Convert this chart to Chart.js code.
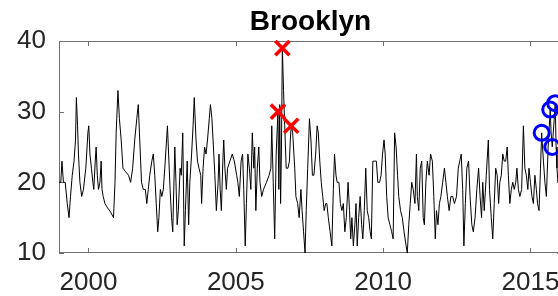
<!DOCTYPE html>
<html><head><meta charset="utf-8">
<script src="https://cdn.jsdelivr.net/npm/chart.js@4/dist/chart.umd.min.js"></script>
<style>html,body{margin:0;padding:0;background:#fff;overflow:hidden;width:558px;height:296px}
#wrap{position:relative;width:621px;height:296px}</style></head>
<body><div id="wrap"><canvas id="c" width="621" height="296"></canvas></div>
<script>
const chartTitle = 'Brooklyn';
const years = [
1999.00,1999.06,1999.10,1999.15,1999.21,1999.28,1999.34,1999.39,1999.45,1999.51,1999.56,1999.59,1999.63,1999.66,1999.71,1999.77,1999.83,1999.91,1999.98,
2000.01,2000.05,2000.10,2000.15,2000.18,2000.23,2000.26,2000.30,2000.34,2000.39,2000.43,2000.46,2000.50,2000.56,2000.63,2000.75,2000.85,2000.90,2000.94,
2001.00,2001.05,2001.11,2001.17,2001.26,2001.36,2001.43,2001.50,2001.57,2001.64,2001.69,2001.73,2001.77,2001.80,2001.86,2001.93,2001.98,
2002.03,2002.08,2002.15,2002.20,2002.25,2002.30,2002.35,2002.39,2002.44,2002.49,2002.54,2002.59,2002.65,2002.68,2002.72,2002.77,2002.82,2002.86,2002.93,2002.97,
2003.01,2003.05,2003.11,2003.15,2003.20,2003.25,2003.29,2003.35,2003.40,2003.44,2003.50,2003.55,2003.59,2003.65,2003.70,2003.75,2003.81,2003.84,2003.89,2003.94,2003.99,
2004.04,2004.10,2004.14,2004.19,2004.24,2004.29,2004.34,2004.40,2004.43,2004.47,2004.51,2004.56,2004.59,2004.63,2004.68,2004.72,2004.80,2004.88,2004.95,
2005.03,2005.07,2005.12,2005.18,2005.23,2005.27,2005.32,2005.36,2005.41,2005.46,2005.51,2005.56,2005.61,2005.64,2005.68,2005.73,2005.78,2005.82,2005.88,2005.94,
2006.04,2006.13,2006.19,2006.22,2006.27,2006.32,2006.37,2006.43,2006.46,2006.49,2006.52,2006.55,2006.58,2006.62,2006.66,2006.71,2006.77,2006.82,2006.85,2006.88,2006.93,
2007.00,2007.04,2007.10,2007.15,2007.21,2007.25,2007.30,2007.35,2007.39,2007.44,2007.50,2007.55,2007.60,2007.65,2007.71,2007.76,2007.80,2007.85,2007.90,2007.95,
2008.00,2008.05,2008.09,2008.14,2008.20,2008.26,2008.31,2008.35,2008.40,2008.44,2008.50,2008.55,2008.60,2008.65,2008.70,2008.75,2008.81,2008.86,2008.90,2008.94,2008.99,
2009.04,2009.08,2009.12,2009.17,2009.22,2009.27,2009.31,2009.36,2009.41,2009.46,2009.51,2009.56,2009.60,2009.65,2009.71,2009.77,2009.82,2009.88,2009.93,2009.98,
2010.03,2010.07,2010.12,2010.17,2010.23,2010.29,2010.34,2010.39,2010.44,2010.49,2010.53,2010.59,2010.65,2010.71,2010.78,2010.82,2010.87,2010.92,2010.97,
2011.02,2011.08,2011.13,2011.16,2011.21,2011.26,2011.31,2011.36,2011.40,2011.45,2011.50,2011.56,2011.61,2011.67,2011.72,2011.77,2011.81,2011.86,2011.91,2011.96,
2012.02,2012.08,2012.13,2012.18,2012.24,2012.30,2012.36,2012.42,2012.49,2012.55,2012.60,2012.65,2012.70,2012.74,2012.79,2012.84,2012.90,2012.95,
2013.01,2013.06,2013.12,2013.18,2013.24,2013.29,2013.34,2013.38,2013.43,2013.50,2013.57,2013.61,2013.67,2013.72,2013.77,2013.82,2013.87,2013.92,2013.96,
2014.01,2014.06,2014.11,2014.16,2014.21,2014.25,2014.30,2014.35,2014.40,2014.45,2014.50,2014.54,2014.59,2014.64,2014.70,2014.76,2014.81,2014.86,2014.91,2014.95,
2015.00,2015.05,2015.10,2015.15,2015.20,2015.24,2015.29,2015.34,2015.38,2015.44,2015.49,2015.54,2015.60,2015.67,2015.70,2015.74,2015.79,2015.84,2015.87,2015.90,2015.93,2015.97
];
const values = [
20,20,23,20,20,17,15,18,21,23,26,32,28,24,20,18,19,22,27,
28,24,22,20,19,23,25,21,19,20,23,19,18,17,16.5,15.8,15,20,27,
33,29,26,22,21.5,21,20,22,26,29,31,27,23,20,19,19,17,
19,21,23,24,21,17,13,15,19,18,19,22,26,28,24,19,15,13,25,20,
14,16,22,21,27,11,16,23,14,20,24,28,32,26,23,22,21,17,22,25,24,
26,29,31,29,25,21,16,20,24,19,16,23,26,22,19,22,23,24,23,
21,20,18,23,24,19,11,17,24,22,19,27,22,25,16,22,25,20,18,19,
20,21,22,28,20,12,24,30,19,31,17,25,39,33,28,22,22,23,26,28,27,
22,18,17,15,19,16,13,10,16,22,29,26,21,21,24,28,27,23,20,18,
16,17,17,15,13,11,19,24,21,20,20,17,16,17,13,15,20,16,12,15,11,
14,17,11,15,18,14,12,16,22,16,15,13,12,23,23,23,20,20,21,24,
26,24,18,15,14,13,12,27,25,21,18,16,15,13,11,10,14,17,20,
19,17,24,18,16,22,23,15,14,20,23,21,24,23,18,12,16,14,17,18,
20,22,20,18,16,18,18,17,18,22,23,24,19,11,17,22,23,18,
14,13,15,19,22,18,15,20,16,21,26,19,15,12,17,22,21,17,20,
21,24,23,23,25,21,17,19,20,19,20,22,19,18,19,28,22,21,19,22,
20,18,17,21,19,17,16,22,27,23,20,18,25,30.3,27,25,28,31.2,25,22,20,20
];
const spikeYears = [2006.43, 2006.58, 2006.88];
const spikeValues = [30, 39, 28];
const recentYears = [2015.38, 2015.67, 2015.74, 2015.84];
const recentValues = [27, 30.3, 25, 31.2];
const xTicks = [2000, 2005, 2010, 2015];
const yTicks = [10, 20, 30, 40];
const xMin = 1999.0, xMax = 2016.07, yMin = 10, yMax = 40;

const toPts = (xs, ys) => xs.map((x, i) => ({x: x, y: ys[i]}));
const FONT = 'Liberation Sans, Arial, Helvetica, sans-serif';
const AXIS = '#707070';

const matlabAxes = {
  id: 'matlabAxes',
  beforeDatasetsDraw(chart) {
    const {ctx, chartArea: a, scales: {x, y}} = chart;
    ctx.save();
    ctx.strokeStyle = AXIS;
    ctx.lineWidth = 1;
    ctx.beginPath();
    ctx.moveTo(a.left + 0.5, a.top + 0.5); ctx.lineTo(a.right, a.top + 0.5);
    ctx.moveTo(a.left + 0.5, a.top); ctx.lineTo(a.left + 0.5, a.bottom);
    ctx.moveTo(a.left, a.bottom - 0.5); ctx.lineTo(a.right, a.bottom - 0.5);
    const tl = 5;
    xTicks.forEach(v => {
      const px = Math.round(x.getPixelForValue(v)) + 0.5;
      ctx.moveTo(px, a.bottom); ctx.lineTo(px, a.bottom - tl);
      ctx.moveTo(px, a.top); ctx.lineTo(px, a.top + tl);
    });
    yTicks.forEach(v => {
      const py = Math.round(y.getPixelForValue(v)) + 0.5;
      ctx.moveTo(a.left, py); ctx.lineTo(a.left + tl, py);
      ctx.moveTo(a.right, py); ctx.lineTo(a.right - tl, py);
    });
    ctx.stroke();
    ctx.restore();
  },
  afterDraw(chart) {
    const {ctx, chartArea: a} = chart;
    ctx.save();
    ctx.fillStyle = '#000';
    ctx.font = 'bold 28px ' + FONT;
    ctx.textAlign = 'center';
    ctx.textBaseline = 'alphabetic';
    ctx.fillText(chartTitle, (a.left + a.right) / 2, 29.5);
    ctx.restore();
  }
};

new Chart(document.getElementById('c'), {
  type: 'line',
  data: {
    datasets: [
      {data: toPts(spikeYears, spikeValues), showLine: false, pointStyle: 'crossRot', pointRadius: 10,
       pointBorderWidth: 3.5, borderColor: '#ff0000', pointBorderColor: '#ff0000', backgroundColor: '#ff0000', order: 0, clip: false},
      {data: toPts(recentYears, recentValues), showLine: false, pointStyle: 'circle', pointRadius: 7.5,
       pointBorderWidth: 3, borderColor: '#0000ff', pointBorderColor: '#0000ff', pointBackgroundColor: 'rgba(0,0,0,0)', order: 0, clip: false},
      {data: toPts(years, values), borderColor: '#000', borderWidth: 1, pointRadius: 0, tension: 0, fill: false, order: 1}
    ]
  },
  options: {
    responsive: false,
    devicePixelRatio: 1,
    animation: false,
    events: [],
    layout: {padding: {top: 41, right: 59, left: 0, bottom: 0}},
    plugins: {legend: {display: false}, tooltip: {enabled: false}, title: {display: false}},
    scales: {
      x: {
        type: 'linear', min: xMin, max: xMax,
        grid: {display: false, drawTicks: false}, border: {display: false},
        afterBuildTicks: s => { s.ticks = xTicks.map(v => ({value: v})); },
        afterFit: s => { s.height = 43; },
        ticks: {padding: 14, color: '#262626', font: {family: FONT, size: 26}, maxRotation: 0, autoSkip: false,
                callback: v => String(v)}
      },
      y: {
        type: 'linear', min: yMin, max: yMax,
        grid: {display: false, drawTicks: false}, border: {display: false},
        afterBuildTicks: s => { s.ticks = yTicks.map(v => ({value: v})); },
        afterFit: s => { s.width = 59; },
        ticks: {padding: 13, color: '#262626', font: {family: FONT, size: 26}, callback: v => String(v)}
      }
    }
  },
  plugins: [matlabAxes]
});
</script></body></html>
